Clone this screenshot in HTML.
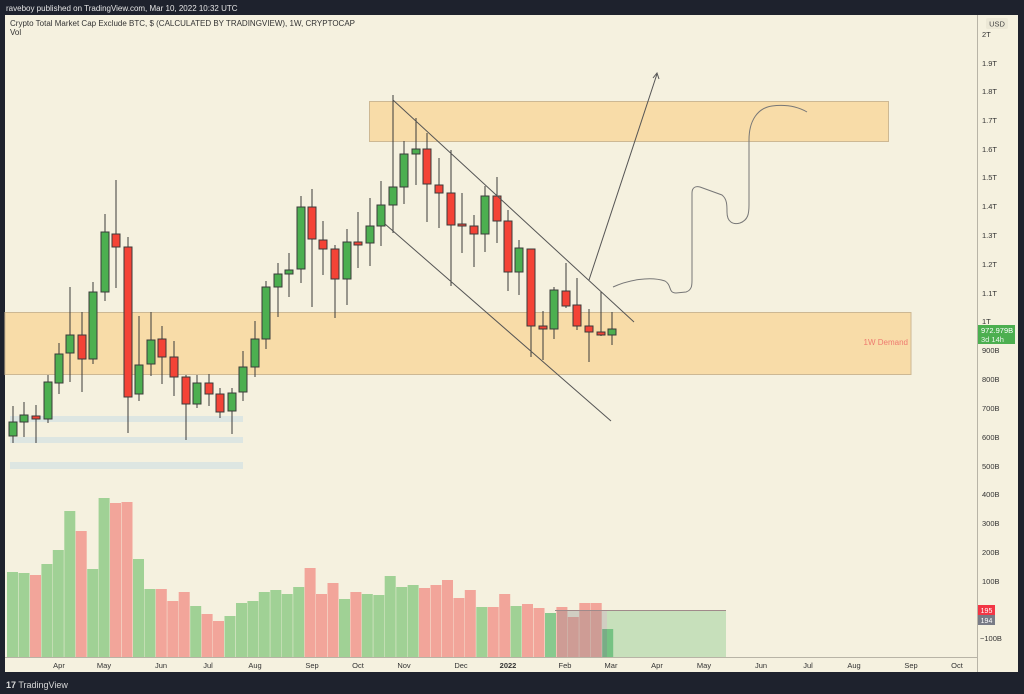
<!DOCTYPE html>
<html><head><meta charset="utf-8"><style>
html,body{margin:0;padding:0;background:#1e222d;}
svg{display:block;font-family:"Liberation Sans",sans-serif;}
</style></head><body>
<svg width="1024" height="694" viewBox="0 0 1024 694" xmlns="http://www.w3.org/2000/svg">
<rect x="0" y="0" width="1024" height="694" fill="#1e222d"/>
<text x="6" y="11" font-size="8" fill="#e6e6e6">raveboy published on TradingView.com, Mar 10, 2022 10:32 UTC</text>
<rect x="5" y="15" width="1013" height="657" fill="#f5f1df"/>
<text x="10" y="26" font-size="8" fill="#333">Crypto Total Market Cap Exclude BTC, $ (CALCULATED BY TRADINGVIEW), 1W, CRYPTOCAP</text>
<text x="10" y="35" font-size="8" fill="#333">Vol</text>

<!-- zones -->
<rect x="369.5" y="101.5" width="519" height="40" fill="#f8dca8" stroke="#cdb893" stroke-width="1"/>
<rect x="5" y="312.5" width="906" height="62" fill="#f8dca8" stroke="#cdb893" stroke-width="1"/>
<text x="908" y="345" font-size="8" fill="#ef7b70" text-anchor="end">1W Demand</text>
<rect x="10" y="416" width="233" height="6" fill="#dde6e2"/>
<rect x="10" y="437" width="233" height="6" fill="#dde6e2"/>
<rect x="10" y="462" width="233" height="7" fill="#dde6e2"/>

<!-- volume -->
<g>
<rect x="7" y="572" width="11" height="85" fill="#a0d195"/>
<rect x="18.5" y="573" width="11" height="84" fill="#a0d195"/>
<rect x="30" y="575" width="11" height="82" fill="#f2a59a"/>
<rect x="41.4" y="564" width="11" height="93" fill="#a0d195"/>
<rect x="52.8" y="550" width="11" height="107" fill="#a0d195"/>
<rect x="64.3" y="511" width="11" height="146" fill="#a0d195"/>
<rect x="75.7" y="531" width="11" height="126" fill="#f2a59a"/>
<rect x="87.2" y="569" width="11" height="88" fill="#a0d195"/>
<rect x="98.6" y="498" width="11" height="159" fill="#a0d195"/>
<rect x="110" y="503" width="11" height="154" fill="#f2a59a"/>
<rect x="121.5" y="502" width="11" height="155" fill="#f2a59a"/>
<rect x="133" y="559" width="11" height="98" fill="#a0d195"/>
<rect x="144.4" y="589" width="11" height="68" fill="#a0d195"/>
<rect x="155.8" y="589" width="11" height="68" fill="#f2a59a"/>
<rect x="167.3" y="601" width="11" height="56" fill="#f2a59a"/>
<rect x="178.7" y="592" width="11" height="65" fill="#f2a59a"/>
<rect x="190.2" y="606" width="11" height="51" fill="#a0d195"/>
<rect x="201.6" y="614" width="11" height="43" fill="#f2a59a"/>
<rect x="213" y="621" width="11" height="36" fill="#f2a59a"/>
<rect x="224.5" y="616" width="11" height="41" fill="#a0d195"/>
<rect x="236" y="603" width="11" height="54" fill="#a0d195"/>
<rect x="247.4" y="601" width="11" height="56" fill="#a0d195"/>
<rect x="258.8" y="592" width="11" height="65" fill="#a0d195"/>
<rect x="270.3" y="590" width="11" height="67" fill="#a0d195"/>
<rect x="281.7" y="594" width="11" height="63" fill="#a0d195"/>
<rect x="293.2" y="587" width="11" height="70" fill="#a0d195"/>
<rect x="304.6" y="568" width="11" height="89" fill="#f2a59a"/>
<rect x="316" y="594" width="11" height="63" fill="#f2a59a"/>
<rect x="327.5" y="583" width="11" height="74" fill="#f2a59a"/>
<rect x="339" y="599" width="11" height="58" fill="#a0d195"/>
<rect x="350.4" y="592" width="11" height="65" fill="#f2a59a"/>
<rect x="361.8" y="594" width="11" height="63" fill="#a0d195"/>
<rect x="373.3" y="595" width="11" height="62" fill="#a0d195"/>
<rect x="384.7" y="576" width="11" height="81" fill="#a0d195"/>
<rect x="396.2" y="587" width="11" height="70" fill="#a0d195"/>
<rect x="407.6" y="585" width="11" height="72" fill="#a0d195"/>
<rect x="419" y="588" width="11" height="69" fill="#f2a59a"/>
<rect x="430.5" y="585" width="11" height="72" fill="#f2a59a"/>
<rect x="442" y="580" width="11" height="77" fill="#f2a59a"/>
<rect x="453.4" y="598" width="11" height="59" fill="#f2a59a"/>
<rect x="464.8" y="590" width="11" height="67" fill="#f2a59a"/>
<rect x="476.3" y="607" width="11" height="50" fill="#a0d195"/>
<rect x="487.7" y="607" width="11" height="50" fill="#f2a59a"/>
<rect x="499.2" y="594" width="11" height="63" fill="#f2a59a"/>
<rect x="510.6" y="606" width="11" height="51" fill="#a0d195"/>
<rect x="522" y="604" width="11" height="53" fill="#f2a59a"/>
<rect x="533.5" y="608" width="11" height="49" fill="#f2a59a"/>
<rect x="545" y="613" width="11" height="44" fill="#88c98e"/>
<rect x="556.4" y="607" width="11" height="50" fill="#f2a59a"/>
<rect x="567.8" y="617" width="11" height="40" fill="#f2a59a"/>
<rect x="579.3" y="603" width="11" height="54" fill="#f2a59a"/>
<rect x="590.7" y="603" width="11" height="54" fill="#f2a59a"/>
<rect x="602.2" y="629" width="11" height="28" fill="#6fbf83"/>
</g>
<rect x="557" y="610" width="50" height="47" fill="#8c8c8c" fill-opacity="0.35"/>
<rect x="607" y="610" width="119" height="47" fill="#81c784" fill-opacity="0.4"/>
<line x1="555" y1="610.5" x2="726" y2="610.5" stroke="#a08a8a" stroke-width="1"/>

<!-- candles -->
<g stroke="#3a3a3a" stroke-width="1">
<line x1="13" y1="406" x2="13" y2="443"/><rect x="9" y="422" width="8" height="14" fill="#4caf50"/>
<line x1="24" y1="402" x2="24" y2="437"/><rect x="20" y="415" width="8" height="7" fill="#4caf50"/>
<line x1="36" y1="405" x2="36" y2="443"/><rect x="32" y="416" width="8" height="3" fill="#f44336"/>
<line x1="48" y1="375" x2="48" y2="423"/><rect x="44" y="382" width="8" height="37" fill="#4caf50"/>
<line x1="59" y1="343" x2="59" y2="394"/><rect x="55" y="354" width="8" height="29" fill="#4caf50"/>
<line x1="70" y1="287" x2="70" y2="382"/><rect x="66" y="335" width="8" height="18" fill="#4caf50"/>
<line x1="82" y1="312" x2="82" y2="392"/><rect x="78" y="335" width="8" height="24" fill="#f44336"/>
<line x1="93" y1="282" x2="93" y2="364"/><rect x="89" y="292" width="8" height="67" fill="#4caf50"/>
<line x1="105" y1="214" x2="105" y2="301"/><rect x="101" y="232" width="8" height="60" fill="#4caf50"/>
<line x1="116" y1="180" x2="116" y2="288"/><rect x="112" y="234" width="8" height="13" fill="#f44336"/>
<line x1="128" y1="237" x2="128" y2="433"/><rect x="124" y="247" width="8" height="150" fill="#f44336"/>
<line x1="139" y1="316" x2="139" y2="401"/><rect x="135" y="365" width="8" height="29" fill="#4caf50"/>
<line x1="151" y1="312" x2="151" y2="376"/><rect x="147" y="340" width="8" height="24" fill="#4caf50"/>
<line x1="162" y1="326" x2="162" y2="384"/><rect x="158" y="339" width="8" height="18" fill="#f44336"/>
<line x1="174" y1="341" x2="174" y2="396"/><rect x="170" y="357" width="8" height="20" fill="#f44336"/>
<line x1="186" y1="375" x2="186" y2="440"/><rect x="182" y="377" width="8" height="27" fill="#f44336"/>
<line x1="197" y1="375" x2="197" y2="408"/><rect x="193" y="383" width="8" height="21" fill="#4caf50"/>
<line x1="209" y1="374" x2="209" y2="406"/><rect x="205" y="383" width="8" height="11" fill="#f44336"/>
<line x1="220" y1="388" x2="220" y2="418"/><rect x="216" y="394" width="8" height="18" fill="#f44336"/>
<line x1="232" y1="388" x2="232" y2="434"/><rect x="228" y="393" width="8" height="18" fill="#4caf50"/>
<line x1="243" y1="351" x2="243" y2="401"/><rect x="239" y="367" width="8" height="25" fill="#4caf50"/>
<line x1="255" y1="321" x2="255" y2="377"/><rect x="251" y="339" width="8" height="28" fill="#4caf50"/>
<line x1="266" y1="281" x2="266" y2="349"/><rect x="262" y="287" width="8" height="52" fill="#4caf50"/>
<line x1="278" y1="263" x2="278" y2="317"/><rect x="274" y="274" width="8" height="13" fill="#4caf50"/>
<line x1="289" y1="253" x2="289" y2="297"/><rect x="285" y="270" width="8" height="4" fill="#4caf50"/>
<line x1="301" y1="196" x2="301" y2="283"/><rect x="297" y="207" width="8" height="62" fill="#4caf50"/>
<line x1="312" y1="189" x2="312" y2="307"/><rect x="308" y="207" width="8" height="32" fill="#f44336"/>
<line x1="323" y1="221" x2="323" y2="275"/><rect x="319" y="240" width="8" height="9" fill="#f44336"/>
<line x1="335" y1="245" x2="335" y2="318"/><rect x="331" y="249" width="8" height="30" fill="#f44336"/>
<line x1="347" y1="229" x2="347" y2="305"/><rect x="343" y="242" width="8" height="37" fill="#4caf50"/>
<line x1="358" y1="212" x2="358" y2="268"/><rect x="354" y="242" width="8" height="3" fill="#f44336"/>
<line x1="370" y1="198" x2="370" y2="266"/><rect x="366" y="226" width="8" height="17" fill="#4caf50"/>
<line x1="381" y1="181" x2="381" y2="246"/><rect x="377" y="205" width="8" height="21" fill="#4caf50"/>
<line x1="393" y1="95" x2="393" y2="233"/><rect x="389" y="187" width="8" height="18" fill="#4caf50"/>
<line x1="404" y1="141" x2="404" y2="204"/><rect x="400" y="154" width="8" height="33" fill="#4caf50"/>
<line x1="416" y1="118" x2="416" y2="185"/><rect x="412" y="149" width="8" height="5" fill="#4caf50"/>
<line x1="427" y1="133" x2="427" y2="222"/><rect x="423" y="149" width="8" height="35" fill="#f44336"/>
<line x1="439" y1="158" x2="439" y2="228"/><rect x="435" y="185" width="8" height="8" fill="#f44336"/>
<line x1="451" y1="150" x2="451" y2="286"/><rect x="447" y="193" width="8" height="32" fill="#f44336"/>
<line x1="462" y1="193" x2="462" y2="253"/><rect x="458" y="224" width="8" height="2" fill="#f44336"/>
<line x1="474" y1="215" x2="474" y2="267"/><rect x="470" y="226" width="8" height="8" fill="#f44336"/>
<line x1="485" y1="186" x2="485" y2="252"/><rect x="481" y="196" width="8" height="38" fill="#4caf50"/>
<line x1="497" y1="177" x2="497" y2="243"/><rect x="493" y="196" width="8" height="25" fill="#f44336"/>
<line x1="508" y1="210" x2="508" y2="291"/><rect x="504" y="221" width="8" height="51" fill="#f44336"/>
<line x1="519" y1="240" x2="519" y2="295"/><rect x="515" y="248" width="8" height="24" fill="#4caf50"/>
<line x1="531" y1="249" x2="531" y2="357"/><rect x="527" y="249" width="8" height="77" fill="#f44336"/>
<line x1="543" y1="311" x2="543" y2="360"/><rect x="539" y="326" width="8" height="3" fill="#f44336"/>
<line x1="554" y1="287" x2="554" y2="339"/><rect x="550" y="290" width="8" height="39" fill="#4caf50"/>
<line x1="566" y1="263" x2="566" y2="308"/><rect x="562" y="291" width="8" height="15" fill="#f44336"/>
<line x1="577" y1="278" x2="577" y2="330"/><rect x="573" y="305" width="8" height="21" fill="#f44336"/>
<line x1="589" y1="309" x2="589" y2="362"/><rect x="585" y="326" width="8" height="6" fill="#f44336"/>
<line x1="601" y1="292" x2="601" y2="336"/><rect x="597" y="332" width="8" height="3" fill="#f44336"/>
<line x1="612" y1="312" x2="612" y2="345"/><rect x="608" y="329" width="8" height="6" fill="#4caf50"/>
</g>

<!-- drawings -->
<g stroke="#555" stroke-width="1" fill="none">
<line x1="393" y1="100" x2="634" y2="322"/>
<line x1="385" y1="224" x2="611" y2="421"/>
<line x1="589" y1="280" x2="657" y2="74"/>
<polyline points="653,78 657,73 659,79"/>
<path d="M613,287 C628,280 650,276 665,281 C672,285 668,293 676,293 L686,292 C692,290 692,285 692,280 L692,193 C692,187 696,186 700,187 L722,195 C727,199 727,205 727,212 C727,222 733,225 740,223 C748,220 749,214 749,205 L749,140 C749,120 758,108 772,106 C788,104 800,108 807,112" stroke="#777"/>
</g>

<!-- axes -->
<line x1="977.5" y1="15" x2="977.5" y2="672" stroke="#b8b4a6"/>
<line x1="5" y1="657.5" x2="977" y2="657.5" stroke="#b8b4a6"/>
<rect x="986" y="18" width="22" height="11" rx="2" fill="#ece8d6"/>
<text x="997" y="26.5" font-size="7.5" fill="#444" text-anchor="middle">USD</text>
<g font-size="7.5" fill="#333">
<text x="982" y="37">2T</text>
<text x="982" y="66">1.9T</text>
<text x="982" y="94">1.8T</text>
<text x="982" y="123">1.7T</text>
<text x="982" y="152">1.6T</text>
<text x="982" y="180">1.5T</text>
<text x="982" y="209">1.4T</text>
<text x="982" y="238">1.3T</text>
<text x="982" y="267">1.2T</text>
<text x="982" y="296">1.1T</text>
<text x="982" y="324">1T</text>
<text x="982" y="353">900B</text>
<text x="982" y="382">800B</text>
<text x="982" y="411">700B</text>
<text x="982" y="440">600B</text>
<text x="982" y="469">500B</text>
<text x="982" y="497">400B</text>
<text x="982" y="526">300B</text>
<text x="982" y="555">200B</text>
<text x="982" y="584">100B</text>
<text x="980" y="641">−100B</text>
</g>
<rect x="978" y="325" width="37" height="19" fill="#4caf50"/>
<text x="981" y="333" font-size="7.5" fill="#fff">972.979B</text>
<text x="981" y="342" font-size="7.5" fill="#e8f5e9">3d 14h</text>
<rect x="978" y="605" width="17" height="10" fill="#f23645"/>
<text x="986.5" y="613" font-size="7" fill="#fff" text-anchor="middle">195</text>
<rect x="978" y="615" width="17" height="10" fill="#787b86"/>
<text x="986.5" y="623" font-size="7" fill="#fff" text-anchor="middle">194</text>
<g font-size="7.5" fill="#333" text-anchor="middle">
<text x="59" y="668">Apr</text>
<text x="104" y="668">May</text>
<text x="161" y="668">Jun</text>
<text x="208" y="668">Jul</text>
<text x="255" y="668">Aug</text>
<text x="312" y="668">Sep</text>
<text x="358" y="668">Oct</text>
<text x="404" y="668">Nov</text>
<text x="461" y="668">Dec</text>
<text x="508" y="668" font-weight="bold">2022</text>
<text x="565" y="668">Feb</text>
<text x="611" y="668">Mar</text>
<text x="657" y="668">Apr</text>
<text x="704" y="668">May</text>
<text x="761" y="668">Jun</text>
<text x="808" y="668">Jul</text>
<text x="854" y="668">Aug</text>
<text x="911" y="668">Sep</text>
<text x="957" y="668">Oct</text>
</g>
<text x="6" y="688" font-size="9" fill="#d8d8d8"><tspan font-weight="bold">17</tspan> TradingView</text>
</svg>
</body></html>
